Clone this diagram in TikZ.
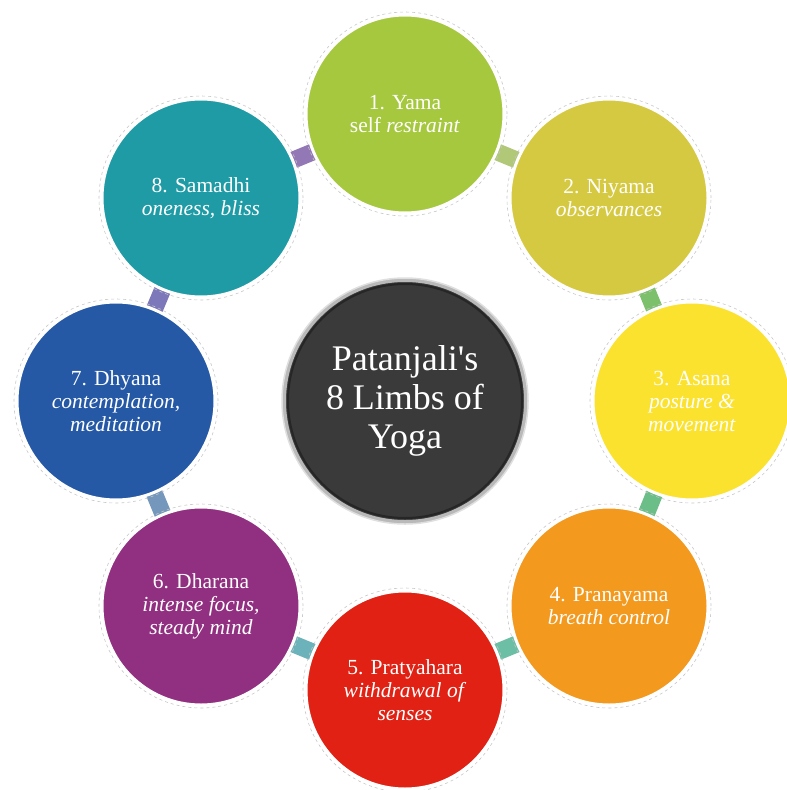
\documentclass[tikz,border=0pt]{standalone}
\usepackage{fontspec}
\setmainfont{Liberation Serif}
\usetikzlibrary{backgrounds}
\definecolor{yamagreen}{RGB}{166,200,63}
\definecolor{niyamagold}{RGB}{214,201,66}
\definecolor{asanayellow}{RGB}{251,226,46}
\definecolor{pranaorange}{RGB}{242,153,30}
\definecolor{pratyared}{RGB}{224,33,20}
\definecolor{dharanapurple}{RGB}{145,47,128}
\definecolor{dhyanablue}{RGB}{37,88,165}
\definecolor{samadhiteal}{RGB}{31,155,166}
\definecolor{hubgrey}{RGB}{58,58,58}
\definecolor{linkai}{RGB}{176,200,120}
\definecolor{linkb}{RGB}{125,192,108}
\definecolor{linkc}{RGB}{108,190,136}
\definecolor{linkd}{RGB}{108,191,164}
\definecolor{linke}{RGB}{107,178,186}
\definecolor{linkf}{RGB}{116,151,187}
\definecolor{linkg}{RGB}{125,120,185}
\definecolor{linkh}{RGB}{146,120,180}
\tikzset{
  limb/.style={circle, minimum size=198pt, inner sep=0pt, fill=#1, draw=white,
    line width=3pt, text=white, align=center, font=\fontsize{21.5}{23}\selectfont},
  rim/.style={gray!45, dashed, line width=0.6pt},
  link/.style={line width=17pt, draw=#1},
  hub/.style={circle, minimum size=242pt, inner sep=0pt, fill=hubgrey, draw=gray!55,
    line width=4pt, text=white, align=center, font=\fontsize{36}{39}\selectfont}
}
\begin{document}
\begin{tikzpicture}[x=1pt,y=1pt]
    \useasboundingbox (0,0) rectangle (787,-790);
    \node[limb=yamagreen] (limb1) at (405,-114) {1. Yama\\self \textit{restraint}};
    \node[limb=niyamagold] (limb2) at (609,-198) {2. Niyama\\\textit{observances}};
    \node[limb=asanayellow] (limb3) at (692,-401) {3. Asana\\\textit{posture \&}\\\textit{movement}};
    \node[limb=pranaorange] (limb4) at (609,-606) {4. Pranayama\\\textit{breath control}};
    \node[limb=pratyared] (limb5) at (405,-690) {5. Pratyahara\\\textit{withdrawal of}\\\textit{senses}};
    \node[limb=dharanapurple] (limb6) at (201,-606) {6. Dharana\\\textit{intense focus,}\\\textit{steady mind}};
    \node[limb=dhyanablue] (limb7) at (116,-401) {7. Dhyana\\\textit{contemplation,}\\\textit{meditation}};
    \node[limb=samadhiteal] (limb8) at (201,-198) {8. Samadhi\\\textit{oneness, bliss}};
    \draw[rim] (limb1.center) circle (102);
    \draw[rim] (limb2.center) circle (102);
    \draw[rim] (limb3.center) circle (102);
    \draw[rim] (limb4.center) circle (102);
    \draw[rim] (limb5.center) circle (102);
    \draw[rim] (limb6.center) circle (102);
    \draw[rim] (limb7.center) circle (102);
    \draw[rim] (limb8.center) circle (102);
    \begin{scope}[on background layer]
        \draw[link=linkai] (limb1.center) -- (limb2.center);
        \draw[link=linkb] (limb2.center) -- (limb3.center);
        \draw[link=linkc] (limb3.center) -- (limb4.center);
        \draw[link=linkd] (limb4.center) -- (limb5.center);
        \draw[link=linke] (limb5.center) -- (limb6.center);
        \draw[link=linkf] (limb6.center) -- (limb7.center);
        \draw[link=linkg] (limb7.center) -- (limb8.center);
        \draw[link=linkh] (limb8.center) -- (limb1.center);
    \end{scope}
    \node[hub] (hub) at (405,-401) {Patanjali\textquotesingle s\\8 Limbs of\\Yoga};
    \draw[gray!25, line width=1.5pt] (hub.center) circle (123);
    \draw[black!85, line width=2pt] (hub.center) circle (117);
\end{tikzpicture}
\end{document}
